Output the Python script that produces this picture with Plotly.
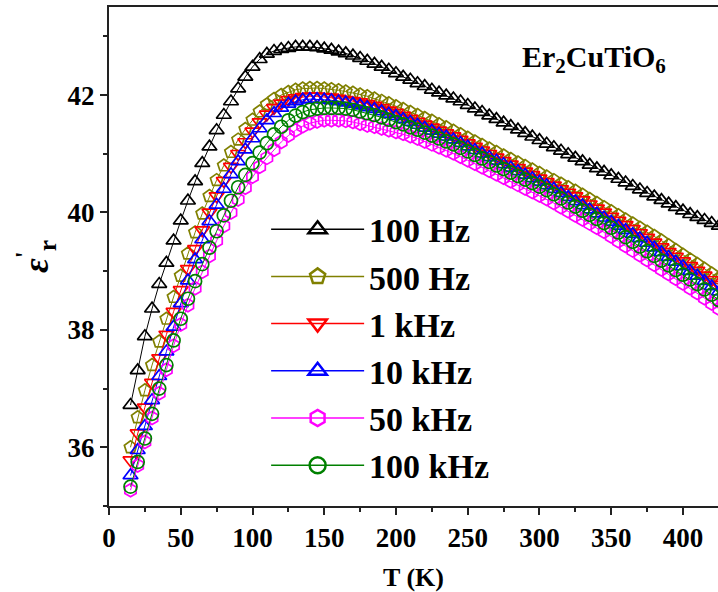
import plotly.graph_objects as go

# Temperature (K)
T = [15, 20, 25, 30, 35, 40, 45, 50, 55, 60,
     65, 70, 75, 80, 85, 90, 95, 100, 105, 110,
     115, 120, 125, 130, 135, 140, 145, 150, 155, 160,
     165, 170, 175, 180, 185, 190, 195, 200, 205, 210,
     215, 220, 225, 230, 235, 240, 245, 250, 255, 260,
     265, 270, 275, 280, 285, 290, 295, 300, 305, 310,
     315, 320, 325, 330, 335, 340, 345, 350, 355, 360,
     365, 370, 375, 380, 385, 390, 395, 400, 405, 410,
     415, 420, 425]

eps_100Hz = [36.72, 37.31, 37.89, 38.36, 38.78, 39.14, 39.52, 39.86, 40.20, 40.53,
             40.84, 41.12, 41.40, 41.66, 41.89, 42.11, 42.31, 42.48, 42.61, 42.70,
             42.75, 42.78, 42.80, 42.82, 42.82, 42.82, 42.81, 42.79, 42.77, 42.74,
             42.71, 42.67, 42.63, 42.58, 42.53, 42.48, 42.43, 42.37, 42.31, 42.26,
             42.20, 42.15, 42.09, 42.04, 41.99, 41.94, 41.89, 41.83, 41.77, 41.71,
             41.65, 41.59, 41.53, 41.47, 41.41, 41.35, 41.29, 41.23, 41.17, 41.11,
             41.05, 40.99, 40.93, 40.87, 40.81, 40.75, 40.69, 40.63, 40.57, 40.51,
             40.45, 40.39, 40.33, 40.27, 40.21, 40.15, 40.09, 40.03, 39.97, 39.92,
             39.87, 39.82, 39.77]

eps_500Hz = [36.00, 36.51, 36.97, 37.40, 37.80, 38.19, 38.56, 38.92, 39.30, 39.66,
             39.98, 40.28, 40.55, 40.80, 41.03, 41.24, 41.42, 41.58, 41.72, 41.84,
             41.93, 42.00, 42.05, 42.09, 42.11, 42.12, 42.12, 42.11, 42.10, 42.08,
             42.06, 42.04, 42.01, 41.98, 41.94, 41.90, 41.86, 41.81, 41.76, 41.71,
             41.66, 41.61, 41.56, 41.50, 41.45, 41.39, 41.33, 41.27, 41.21, 41.15,
             41.09, 41.03, 40.97, 40.91, 40.85, 40.79, 40.73, 40.67, 40.61, 40.55,
             40.49, 40.43, 40.37, 40.30, 40.23, 40.16, 40.09, 40.02, 39.95, 39.88,
             39.81, 39.74, 39.67, 39.60, 39.52, 39.44, 39.36, 39.28, 39.20, 39.12,
             39.04, 38.96, 38.88]

eps_1kHz = [35.78, 36.24, 36.68, 37.10, 37.52, 37.92, 38.31, 38.68, 39.04, 39.38,
            39.70, 40.00, 40.28, 40.54, 40.78, 41.00, 41.20, 41.38, 41.54, 41.67,
            41.78, 41.86, 41.92, 41.95, 41.97, 41.98, 41.98, 41.97, 41.96, 41.94,
            41.92, 41.90, 41.88, 41.85, 41.82, 41.78, 41.74, 41.70, 41.65, 41.60,
            41.55, 41.50, 41.45, 41.40, 41.35, 41.30, 41.24, 41.18, 41.12, 41.06,
            41.00, 40.94, 40.88, 40.82, 40.76, 40.70, 40.64, 40.58, 40.52, 40.46,
            40.40, 40.34, 40.28, 40.21, 40.14, 40.07, 40.00, 39.93, 39.86, 39.79,
            39.72, 39.65, 39.57, 39.49, 39.41, 39.33, 39.25, 39.17, 39.09, 39.01,
            38.93, 38.85, 38.77]

eps_10kHz = [35.52, 35.95, 36.36, 36.80, 37.21, 37.63, 38.05, 38.45, 38.84, 39.20,
             39.54, 39.85, 40.13, 40.40, 40.65, 40.87, 41.07, 41.26, 41.43, 41.57,
             41.69, 41.78, 41.85, 41.89, 41.92, 41.93, 41.93, 41.92, 41.91, 41.89,
             41.87, 41.85, 41.82, 41.79, 41.76, 41.72, 41.68, 41.64, 41.59, 41.54,
             41.49, 41.44, 41.39, 41.34, 41.29, 41.24, 41.18, 41.12, 41.06, 41.00,
             40.94, 40.88, 40.82, 40.76, 40.70, 40.64, 40.58, 40.52, 40.46, 40.40,
             40.33, 40.26, 40.19, 40.12, 40.05, 39.98, 39.91, 39.84, 39.77, 39.70,
             39.63, 39.56, 39.48, 39.40, 39.32, 39.24, 39.16, 39.08, 39.00, 38.92,
             38.83, 38.74, 38.65]

eps_50kHz = [35.27, 35.69, 36.09, 36.50, 36.92, 37.32, 37.73, 38.09, 38.42, 38.71,
             38.99, 39.26, 39.52, 39.77, 40.00, 40.22, 40.42, 40.61, 40.78, 40.93,
             41.07, 41.20, 41.31, 41.40, 41.47, 41.52, 41.55, 41.57, 41.57, 41.57,
             41.56, 41.54, 41.51, 41.48, 41.46, 41.43, 41.40, 41.37, 41.34, 41.30,
             41.26, 41.21, 41.16, 41.11, 41.06, 41.01, 40.95, 40.89, 40.83, 40.77,
             40.71, 40.65, 40.59, 40.53, 40.47, 40.41, 40.35, 40.29, 40.23, 40.16,
             40.09, 40.02, 39.95, 39.88, 39.81, 39.74, 39.67, 39.59, 39.51, 39.43,
             39.35, 39.27, 39.19, 39.11, 39.03, 38.95, 38.87, 38.79, 38.71, 38.63,
             38.54, 38.45, 38.36]

eps_100kHz = [35.33, 35.75, 36.15, 36.57, 37.00, 37.40, 37.82, 38.19, 38.53, 38.83,
              39.12, 39.40, 39.68, 39.95, 40.20, 40.43, 40.64, 40.84, 41.02, 41.18,
              41.33, 41.46, 41.57, 41.65, 41.71, 41.75, 41.77, 41.78, 41.78, 41.78,
              41.77, 41.75, 41.72, 41.69, 41.66, 41.62, 41.58, 41.54, 41.50, 41.45,
              41.41, 41.36, 41.31, 41.26, 41.21, 41.16, 41.10, 41.04, 40.98, 40.92,
              40.86, 40.80, 40.74, 40.68, 40.62, 40.56, 40.50, 40.44, 40.38, 40.31,
              40.24, 40.17, 40.10, 40.03, 39.96, 39.89, 39.82, 39.74, 39.66, 39.58,
              39.50, 39.42, 39.34, 39.26, 39.18, 39.10, 39.02, 38.94, 38.86, 38.78,
              38.69, 38.60, 38.51]

labels = ["100 Hz", "500 Hz", "1 kHz", "10 kHz", "50 kHz", "100 kHz"]
series = [eps_100Hz, eps_500Hz, eps_1kHz, eps_10kHz, eps_50kHz, eps_100kHz]
colors = ["#000000", "#808000", "#ff0000", "#0000ff", "#ff00ff", "#008000"]
symbols = ["triangle-up-open", "pentagon-open", "triangle-down-open",
           "triangle-up-open", "hexagon-open", "circle-open"]

SERIF = "Liberation Serif, Times New Roman, serif"

fig = go.Figure()
for lab, ys, col, sym in zip(labels, series, colors, symbols):
    fig.add_trace(go.Scatter(
        x=T, y=ys, name=lab, mode="lines+markers", showlegend=False,
        line=dict(color=col, width=1),
        marker=dict(symbol=sym, size=13, color=col, line=dict(color=col, width=1.7)),
    ))

# legend entries (no data of their own)
for lab, col, sym in zip(labels, colors, symbols):
    fig.add_trace(go.Scatter(
        x=[None], y=[None], name=lab, mode="lines+markers", showlegend=True,
        line=dict(color=col, width=1.5),
        marker=dict(symbol=sym, size=16, color=col, line=dict(color=col, width=2.5)),
    ))

fig.add_annotation(
    x=0.675, y=0.895, xref="paper", yref="paper", xanchor="left", yanchor="middle",
    text="Er<sub>2</sub>CuTiO<sub>6</sub>", showarrow=False,
    font=dict(family=SERIF, size=30, color="black", weight="bold"),
)

fig.update_layout(
    width=718, height=592,
    margin=dict(l=109, r=0, t=7, b=86),
    paper_bgcolor="white", plot_bgcolor="white",
    showlegend=True,
    legend=dict(
        x=0.258, y=0.612, xanchor="left", yanchor="top",
        bgcolor="rgba(0,0,0,0)", borderwidth=0,
        font=dict(family=SERIF, size=34, color="black", weight="bold"),
        itemwidth=93, tracegroupgap=0, itemsizing="trace",
    ),
    xaxis=dict(
        range=[0, 424.4], tickmode="array", tickvals=[0, 50, 100, 150, 200, 250, 300, 350, 400],
        showgrid=False, zeroline=False, automargin=False,
        showline=True, linecolor="#222", linewidth=2, mirror=True,
        ticks="outside", ticklen=7, tickwidth=2, tickcolor="#222",
        minor=dict(ticks="outside", ticklen=4, tickwidth=2, tickcolor="#222", dtick=25, tick0=0),
        tickfont=dict(family=SERIF, size=27, color="black", weight="bold"),
        title=dict(text="T (K)", font=dict(family=SERIF, size=26, color="black", weight="bold"), standoff=16),
    ),
    yaxis=dict(
        range=[35, 43.5], tickmode="array", tickvals=[36, 38, 40, 42],
        showgrid=False, zeroline=False, automargin=False,
        showline=True, linecolor="#222", linewidth=2, mirror=False,
        ticks="outside", ticklen=7, tickwidth=2, tickcolor="#222",
        minor=dict(ticks="outside", ticklen=4, tickwidth=2, tickcolor="#222", dtick=1, tick0=35),
        tickfont=dict(family=SERIF, size=27, color="black", weight="bold"),
        title=dict(text="<i>ε</i><sup>'</sup><sub>r</sub>",
                   font=dict(family=SERIF, size=36, color="black", weight="bold"), standoff=8),
    ),
)

fig.write_html("out.html", config={"displayModeBar": False},
               post_script="document.body.style.margin='0';")
